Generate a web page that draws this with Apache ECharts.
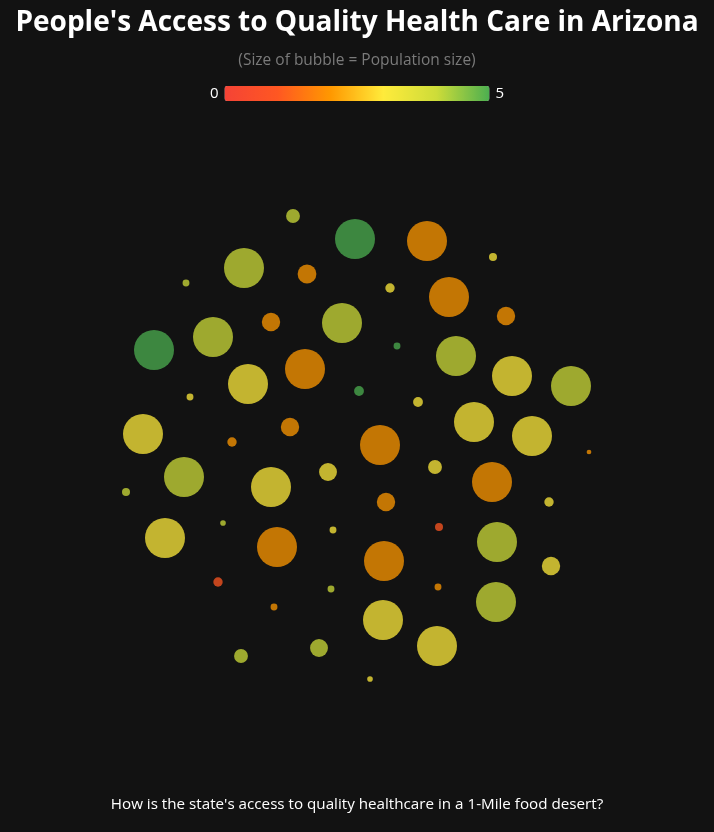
<!DOCTYPE html>
<html>
<head>
<meta charset="utf-8">
<script src="https://cdn.jsdelivr.net/npm/echarts@6/dist/echarts.min.js"></script>
<style>
html,body{margin:0;padding:0;background:#121212;}
#chart{width:714px;height:832px;}
</style>
</head>
<body>
<div id="chart"></div>
<script>
// Bubble positions (layout coordinates), population (thousands) and access score (0-5)
var posX = [293,355,427,493,244,307,186,390,449,506,271,342,213,154,397,456,305,512,571,248,359,190,418,474,532,143,290,232,380,589,184,271,328,435,492,126,386,549,165,223,333,439,497,277,384,551,218,331,438,274,496,383,437,319,241,370];
var posY = [216,239,241,257,268,274,283,288,297,316,322,323,337,350,346,356,369,376,386,384,391,397,402,422,436,434,427,442,445,452,477,487,472,467,482,492,502,502,538,523,530,527,542,547,561,566,582,589,587,607,602,620,646,648,656,679];
var population = [12,100,100,4,100,22,3,5.5,100,21,21,100,100,100,3,100,100,100,100,100,6,3,6,100,100,100,21,5.5,100,1.4,100,100,20,12,100,4,21,5.5,100,2,3,4,100,100,100,21,5.5,3,3,3,100,100,100,20,12,2];
var score = [4,5,2,3,4,2,4,3,2,2,2,4,4,5,5,4,2,3,4,3,5,3,3,3,3,3,2,2,2,2,4,3,3,3,2,4,2,3,3,4,3,1,4,2,2,3,1,4,2,2,4,3,3,4,4,3];
var scoreTicks = ['0','5'];
var colorStops = ['#f44336','#ff5722','#ff9800','#ffeb3b','#cddc39','#4caf50'];

var data = posX.map(function (x, i) { return [x, posY[i], population[i], score[i]]; });

var chart = echarts.init(document.getElementById('chart'));
chart.setOption({
  backgroundColor: '#121212',
  animation: false,
  title: [{
    text: "People's Access to Quality Health Care in Arizona",
    left: 'center', top: 4,
    textStyle: { color: '#ffffff', fontSize: 28, fontWeight: 'bold', fontFamily: 'Open Sans' },
  }, {
    text: '(Size of bubble = Population size)',
    left: 'center', top: 48,
    textStyle: { color: '#7a7a7a', fontSize: 15.5, fontWeight: 'normal', fontFamily: 'Open Sans' }
  }, {
    text: "How is the state's access to quality healthcare in a 1-Mile food desert?",
    left: 'center', top: 792,
    textStyle: { color: '#ffffff', fontSize: 15.2, fontWeight: 'normal', fontFamily: 'Open Sans' }
  }],
  visualMap: {
    type: 'continuous',
    min: 0, max: 5,
    dimension: 3,
    orient: 'horizontal',
    left: 'center', top: 71,
    itemWidth: 15, itemHeight: 265,
    text: [scoreTicks[1], scoreTicks[0]],
    textGap: 6,
    calculable: false,
    textStyle: { color: '#ffffff', fontSize: 15, fontFamily: 'Open Sans' },
    inRange: { color: colorStops }
  },
  grid: { left: 0, right: 0, top: 0, bottom: 0 },
  xAxis: { type: 'value', min: 0, max: 714, show: false },
  yAxis: { type: 'value', min: 0, max: 832, inverse: true, show: false },
  series: [{
    type: 'scatter',
    data: data,
    symbolSize: function (v) { return 4 * Math.sqrt(v[2]); },
    itemStyle: { opacity: 0.75 }
  }]
});
</script>
</body>
</html>
